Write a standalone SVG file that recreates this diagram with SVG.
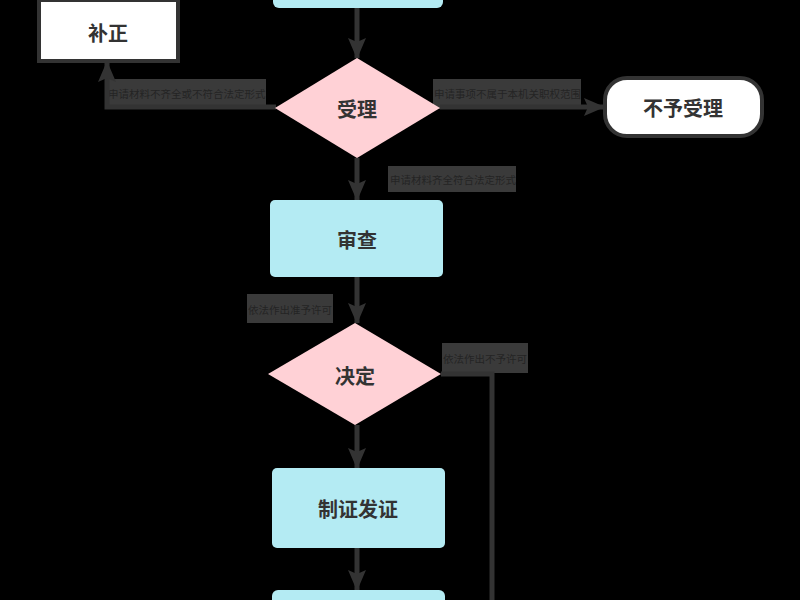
<svg xmlns="http://www.w3.org/2000/svg" width="800" height="600" viewBox="0 0 800 600">
<defs>
<style>
.proc{fill:#b4ebf3;}
.dec{fill:#ffd1d6;}
.term{fill:#ffffff;stroke:#333333;stroke-width:4;}
.nt{font-family:"Noto Sans CJK SC","Noto Sans",sans-serif;font-size:20px;font-weight:bold;fill:#333333;text-anchor:middle;dominant-baseline:central;}
.edge{fill:none;stroke:#333333;stroke-width:5;}
.lbg{fill:#3a3a3a;}
.lt{font-family:"Noto Sans CJK SC","Noto Sans",sans-serif;font-size:10.5px;fill:#242424;dominant-baseline:central;}
</style>
<marker id="arr" markerUnits="userSpaceOnUse" markerWidth="22" markerHeight="22" viewBox="0 0 22 22" refX="20" refY="11" orient="auto">
<path d="M0,2 L21,11 L0,20 L4,11 z" fill="#333333"/>
</marker>
</defs>
<rect x="0" y="0" width="800" height="600" fill="#000000"/>

<g id="labels">
<g id="label-buzheng">
<rect class="lbg" x="106" y="79" width="160" height="30"/>
<text class="lt" x="108" y="93">申请材料不齐全或不符合法定形式</text>
</g>
<g id="label-buyushouli">
<rect class="lbg" x="433" y="79" width="148" height="30"/>
<text class="lt" x="434" y="93">申请事项不属于本机关职权范围</text>
</g>
<g id="label-shouli">
<rect class="lbg" x="388" y="166" width="128" height="26"/>
<text class="lt" x="390" y="179">申请材料齐全符合法定形式</text>
</g>
<g id="label-zhunyu">
<rect class="lbg" x="247" y="294" width="86" height="29"/>
<text class="lt" x="248" y="309">依法作出准予许可</text>
</g>
<g id="label-buyu">
<rect class="lbg" x="442" y="343" width="86" height="30"/>
<text class="lt" x="443" y="358">依法作出不予许可</text>
</g>
</g>

<g id="connectors">
<line class="edge" x1="357" y1="8" x2="357" y2="58" marker-end="url(#arr)"/>
<polyline class="edge" points="276,107 107,107 107,62" marker-end="url(#arr)"/>
<line class="edge" x1="440" y1="107" x2="604" y2="107" marker-end="url(#arr)"/>
<line class="edge" x1="357" y1="158" x2="357" y2="200" marker-end="url(#arr)"/>
<line class="edge" x1="357" y1="277" x2="357" y2="323" marker-end="url(#arr)"/>
<polyline class="edge" points="441,374 492,374 492,600"/>
<line class="edge" x1="357" y1="425" x2="357" y2="468" marker-end="url(#arr)"/>
<line class="edge" x1="357" y1="548" x2="357" y2="590" marker-end="url(#arr)"/>
</g>

<g id="node-top">
<rect class="proc" x="273" y="-40" width="170" height="48" rx="6"/>
</g>
<g id="node-buzheng">
<rect class="term" x="39" y="0" width="139" height="61"/>
<text class="nt" x="108" y="32">补正</text>
</g>
<g id="node-shouli">
<polygon class="dec" points="357,58 440,108 357,158 275,108"/>
<text class="nt" x="357" y="108">受理</text>
</g>
<g id="node-buyushouli">
<rect class="term" x="605" y="78" width="157" height="58" rx="22"/>
<text class="nt" x="683" y="107">不予受理</text>
</g>
<g id="node-shencha">
<rect class="proc" x="270" y="200" width="173" height="77" rx="5"/>
<text class="nt" x="357" y="239">审查</text>
</g>
<g id="node-jueding">
<polygon class="dec" points="355,323 441,374 355,425 268,374"/>
<text class="nt" x="355" y="375">决定</text>
</g>
<g id="node-zhizheng">
<rect class="proc" x="272" y="468" width="173" height="80" rx="5"/>
<text class="nt" x="358" y="508">制证发证</text>
</g>
<g id="node-bottom">
<rect class="proc" x="272" y="590" width="173" height="60" rx="6"/>
</g>
</svg>
